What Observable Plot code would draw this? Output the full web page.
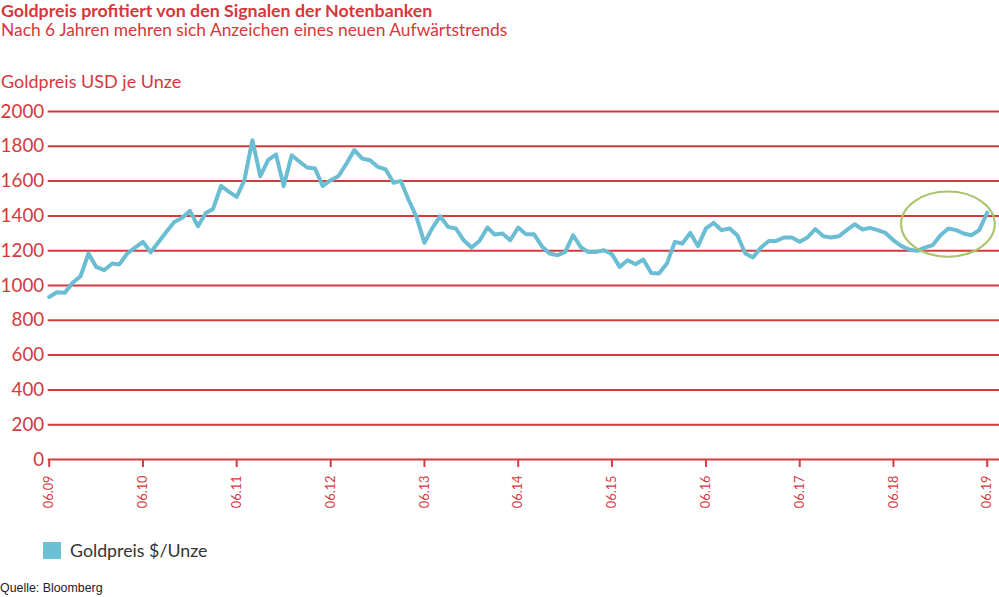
<!DOCTYPE html>
<html>
<head>
<meta charset="utf-8">
<script src="https://cdn.jsdelivr.net/npm/d3@7"></script>
<script src="https://cdn.jsdelivr.net/npm/@observablehq/plot@0.6"></script>
<style>
  html, body { margin: 0; padding: 0; background: #fff; }
  #wrap { position: relative; width: 999px; height: 597px; overflow: hidden; font-family: Lato, "Open Sans", sans-serif; }
  .txt { position: absolute; left: 0; white-space: nowrap; line-height: 1.2; }
  #title { top: -0.5px; left: 1px; font-size: 17.8px; font-weight: 700; color: #d7373a; letter-spacing: 0px; }
  #subtitle { top: 19.5px; left: 1px; font-size: 17.4px; color: #d7373a; }
  #ylabel { top: 71px; left: 1px; font-size: 18px; color: #d7373a; }
  #chart { position: absolute; left: 0; top: 95px; }
  #legend { position: absolute; left: 43px; top: 542px; display: flex; align-items: center; }
  #legend .sw { width: 18px; height: 17px; background: #6cc0d5; margin-right: 9px; }
  #legend .lab { font-size: 17.8px; color: #333; line-height: 17px; }
  #source { top: 580.5px; left: 0; font-family: "Liberation Sans", Arial, sans-serif; font-size: 12.4px; color: #222; }
</style>
</head>
<body>
<div id="wrap">
  <div class="txt" id="title">Goldpreis profitiert von den Signalen der Notenbanken</div>
  <div class="txt" id="subtitle">Nach 6 Jahren mehren sich Anzeichen eines neuen Aufwärtstrends</div>
  <div class="txt" id="ylabel">Goldpreis USD je Unze</div>
  <div id="chart"></div>
  <div id="legend"><div class="sw"></div><div class="lab">Goldpreis $/Unze</div></div>
  <div class="txt" id="source">Quelle: Bloomberg</div>
</div>
<script>
// Monthly gold price (USD per ounce), June 2009 through June 2019
const firstMonth = [2009, 5]; // year, zero-based month
const goldPrice = [
  934, 961, 958, 1017, 1053, 1184, 1107,
  1088, 1126, 1121, 1184, 1218, 1251, 1191, 1250, 1310, 1365, 1390, 1429,
  1341, 1417, 1440, 1572, 1540, 1509, 1605, 1835, 1628, 1720, 1753, 1572,
  1749, 1711, 1678, 1672, 1572, 1605, 1628, 1700, 1778, 1730, 1720, 1682,
  1667, 1590, 1601, 1490, 1394, 1245, 1328, 1398, 1337, 1328, 1260, 1218,
  1256, 1333, 1293, 1299, 1260, 1333, 1295, 1295, 1226, 1184, 1174, 1193,
  1289, 1218, 1193, 1193, 1203, 1180, 1107, 1145, 1122, 1149, 1072, 1069,
  1126, 1251, 1241, 1302, 1226, 1328, 1360, 1318, 1328, 1289, 1184, 1161,
  1218, 1256, 1256, 1276, 1276, 1251, 1276, 1324, 1283, 1276, 1283, 1318,
  1352, 1322, 1331, 1318, 1302, 1260, 1228, 1207, 1199, 1218, 1232, 1289,
  1328, 1318, 1299, 1289, 1318, 1419
];

// Axis ticks
const tickLabels = ["06.09", "06.10", "06.11", "06.12", "06.13", "06.14", "06.15", "06.16", "06.17", "06.18", "06.19"];
const tickYears = [2009, 2010, 2011, 2012, 2013, 2014, 2015, 2016, 2017, 2018, 2019];
const yTicks = [0, 200, 400, 600, 800, 1000, 1200, 1400, 1600, 1800, 2000];

// Highlighted recent period (centre month, centre price, half-width in months, half-height in USD)
const highlight = {year: 2019, month: 0, price: 1350, halfMonths: 6, halfPrice: 187};

const red = "#d33a3c";
const lineBlue = "#6bbdd3";

const data = goldPrice.map((price, i) => ({
  date: new Date(Date.UTC(firstMonth[0], firstMonth[1] + i, 1)),
  price
}));
const tickDates = tickYears.map(y => new Date(Date.UTC(y, 5, 1)));

// Ellipse drawn through the plot's own scales
function highlightEllipse(index, scales) {
  const x0 = scales.x(new Date(Date.UTC(highlight.year, highlight.month - highlight.halfMonths, 1)));
  const x1 = scales.x(new Date(Date.UTC(highlight.year, highlight.month + highlight.halfMonths, 1)));
  const cx = scales.x(new Date(Date.UTC(highlight.year, highlight.month, 1)));
  const cy = scales.y(highlight.price);
  const ry = Math.abs(scales.y(highlight.price + highlight.halfPrice) - cy);
  return d3.create("svg:ellipse")
    .attr("cx", cx).attr("cy", cy)
    .attr("rx", (x1 - x0) / 2).attr("ry", ry)
    .attr("fill", "none")
    .attr("stroke", "#a9c46c")
    .attr("stroke-width", 2)
    .node();
}

const chart = Plot.plot({
  width: 999,
  height: 425,
  marginTop: 16,
  marginBottom: 61,
  marginLeft: 48.7,
  marginRight: 12.3,
  style: {fontFamily: "Lato, 'Open Sans', sans-serif", background: "transparent", overflow: "visible"},
  x: {type: "utc", domain: [tickDates[0], tickDates[tickDates.length - 1]], axis: null},
  y: {domain: [0, 2000], axis: null},
  marks: [
    Plot.ruleY(yTicks, {stroke: red, strokeWidth: 2, insetLeft: -1, insetRight: -13}),
    Plot.axisY({
      ticks: yTicks, tickFormat: d => String(d), label: null,
      tickSize: 0, tickPadding: 5, fontSize: 18.8, color: red
    }),
    Plot.axisX({
      ticks: tickDates, label: null,
      tickFormat: d => tickLabels[tickDates.findIndex(t => +t === +d)],
      tickRotate: -90, tickSize: 8, tickPadding: 8, fontSize: 12.8,
      color: red, strokeWidth: 2
    }),
    Plot.line(data, {x: "date", y: "price", stroke: lineBlue, strokeWidth: 4, strokeLinejoin: "round", strokeLinecap: "round"}),
    highlightEllipse
  ]
});
document.getElementById("chart").appendChild(chart);
</script>
</body>
</html>
